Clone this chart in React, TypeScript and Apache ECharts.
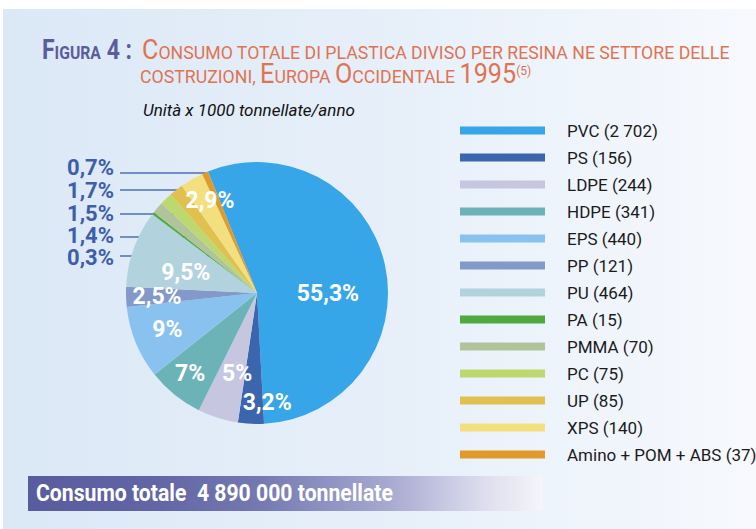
import React, { useEffect, useRef } from 'react';
import * as echarts from 'echarts';

// ---------- data ----------
const resins = ['PVC', 'PS', 'LDPE', 'HDPE', 'EPS', 'PP', 'PU', 'PA', 'PMMA', 'PC', 'UP', 'XPS', 'Amino + POM + ABS'];
const tonnes = [2702, 156, 244, 341, 440, 121, 464, 15, 70, 75, 85, 140, 37];
const shareLabels = ['55,3%', '3,2%', '5%', '7%', '9%', '2,5%', '9,5%', '0,3%', '1,4%', '1,5%', '1,7%', '2,9%', '0,7%'];
const totalText = 'Consumo totale  4 890 000 tonnellate';
const subtitleText = 'Unità x 1000 tonnellate/anno';

// ---------- styles / layout ----------
const colors = ['#36a6e8', '#3b65ad', '#c6c6e1', '#6cb3b8', '#8ac2ef', '#8299ca', '#b2d3dd', '#4fa93e', '#b1c39b', '#bed870', '#e0c04f', '#f3df7e', '#df9a29'];
const CX = 257;
const CY = 293;
const R = 131;
const START = -22; // degrees clockwise from 12 o'clock
// inside labels: [angle shift (deg), radius (px)]
const insidePlace: Record<number, [number, number]> = {
  0: [13, 71], 1: [-8, 110], 2: [-3.5, 83], 3: [0.7, 105], 4: [0, 97], 5: [-0.6, 100], 6: [-4, 74], 11: [3, 104],
};
// outside labels: [label centre y, leader line y]
const outsidePlace: Record<number, [number, number]> = {
  12: [167, 173], 10: [190, 190], 9: [213, 214], 8: [235, 237], 7: [257, 256],
};
const OUT_LABEL_RIGHT = 114;
const LINE_START = 120;

const FAMILY = 'Roboto, "Noto Sans", sans-serif';

const fmtThousands = (n: number) => String(n).replace(/\B(?=(\d{3})+(?!\d))/g, ' ');

type Piece = { t: string; size: number; weight?: string; style?: string; dy?: number };

function measure(ctx: CanvasRenderingContext2D, p: Piece) {
  ctx.font = `${p.style || 'normal'} ${p.weight || 'normal'} ${p.size}px ${FAMILY}`;
  return ctx.measureText(p.t).width;
}

function buildLine(
  ctx: CanvasRenderingContext2D,
  pieces: Piece[],
  x0: number,
  baseline: number,
  color: string,
  opts: { target?: number; scale?: number; z?: number }
) {
  const widths = pieces.map((p) => measure(ctx, p));
  const W = widths.reduce((a, b) => a + b, 0);
  const s = opts.scale != null ? opts.scale : (opts.target as number) / W;
  let x = x0;
  const els: any[] = [];
  pieces.forEach((p, i) => {
    els.push({
      type: 'text',
      x,
      y: baseline - 0.35 * p.size + (p.dy || 0),
      scaleX: s,
      z: opts.z ?? 5,
      silent: true,
      style: {
        text: p.t,
        fill: color,
        fontSize: p.size,
        fontFamily: FAMILY,
        fontWeight: p.weight || 'normal',
        fontStyle: p.style || 'normal',
        align: 'left',
        verticalAlign: 'middle',
      },
    });
    x += widths[i] * s;
  });
  return { els, scale: s };
}

export default function App() {
  const ref = useRef<HTMLDivElement>(null);

  useEffect(() => {
    if (!ref.current) return;
    const chart = echarts.init(ref.current, undefined, { renderer: 'svg' });
    const ctx = document.createElement('canvas').getContext('2d') as CanvasRenderingContext2D;

    const total = tonnes.reduce((a, b) => a + b, 0);
    const cum: number[] = [];
    let acc = 0;
    tonnes.forEach((v) => {
      cum.push(acc);
      acc += v;
    });
    const midDeg = (i: number) => START + (360 * (cum[i] + tonnes[i] / 2)) / total;
    const polar = (deg: number, r: number): [number, number] => [
      CX + r * Math.sin((deg * Math.PI) / 180),
      CY - r * Math.cos((deg * Math.PI) / 180),
    ];

    // title & texts
    const purple = '#5a5c9e';
    const orange = '#df7352';
    const fig = buildLine(ctx, [
      { t: 'F', size: 27, weight: 'bold' },
      { t: 'IGURA', size: 18.5, weight: 'bold' },
      { t: ' 4 :', size: 27, weight: 'bold' },
    ], 42, 59, purple, { target: 90 });
    const l1 = buildLine(ctx, [
      { t: 'C', size: 27 },
      { t: 'ONSUMO TOTALE DI PLASTICA DIVISO PER RESINA NE SETTORE DELLE', size: 19 },
    ], 142, 59, orange, { target: 588 });
    const l2 = buildLine(ctx, [
      { t: 'COSTRUZIONI, ', size: 19 },
      { t: 'E', size: 27 },
      { t: 'UROPA ', size: 19 },
      { t: 'O', size: 27 },
      { t: 'CCIDENTALE ', size: 19 },
      { t: '1995', size: 27 },
      { t: '(5)', size: 13, dy: -8 },
    ], 140, 83, orange, { scale: l1.scale });
    const sub = buildLine(ctx, [{ t: subtitleText, size: 16, style: 'italic' }], 143, 116, '#111111', { target: 212 });
    const tot = buildLine(ctx, [{ t: totalText, size: 24, weight: 'bold' }], 36, 501, '#ffffff', { target: 357, z: 6 });

    const option: any = {
      animation: false,
      backgroundColor: '#ffffff',
      textStyle: { fontFamily: FAMILY },
      graphic: [
        {
          type: 'rect',
          z: 0,
          silent: true,
          shape: { x: 3, y: 9, width: 753, height: 520 },
          style: {
            fill: new echarts.graphic.LinearGradient(0, 0, 1, 0, [
              { offset: 0, color: '#dbe8f6' },
              { offset: 0.6, color: '#e9f1fa' },
              { offset: 1, color: '#f7f9fd' },
            ]),
          },
        },
        {
          type: 'rect',
          z: 4,
          silent: true,
          shape: { x: 28, y: 476, width: 515, height: 35 },
          style: {
            fill: new echarts.graphic.LinearGradient(0, 0, 1, 0, [
              { offset: 0, color: '#585b9d' },
              { offset: 0.25, color: '#6266a5' },
              { offset: 0.45, color: '#7479b2' },
              { offset: 0.7, color: '#a7a9d0' },
              { offset: 0.88, color: '#dcdcee' },
              { offset: 1, color: '#f5f5fa' },
            ]),
          },
        },
        ...fig.els,
        ...l1.els,
        ...l2.els,
        ...sub.els,
        ...tot.els,
      ],
      legend: {
        orient: 'vertical',
        left: 460,
        top: 121,
        padding: 0,
        icon: 'rect',
        itemWidth: 85,
        itemHeight: 8,
        itemGap: 8,
        selectedMode: false,
        data: resins,
        formatter: (name: string) => `${name} (${fmtThousands(tonnes[resins.indexOf(name)])})`,
        textStyle: {
          fontFamily: FAMILY,
          fontSize: 17,
          lineHeight: 19,
          color: '#1b1b1b',
          padding: [0, 0, 0, 17],
        },
      },
      series: [
        {
          type: 'pie',
          center: [CX, CY],
          radius: [0, R],
          startAngle: 90 - START,
          clockwise: true,
          avoidLabelOverlap: false,
          itemStyle: { borderWidth: 0 },
          emphasis: { disabled: true },
          data: resins.map((name, i) => {
            const inside = insidePlace[i] != null;
            return {
              name,
              value: tonnes[i],
              itemStyle: { color: colors[i] },
              label: {
                show: true,
                position: inside ? 'inside' : 'outside',
                formatter: shareLabels[i],
                color: inside ? '#ffffff' : '#3d5ea9',
                fontFamily: FAMILY,
                fontWeight: 'bold',
                fontSize: inside ? 23 : 22,
                lineHeight: inside ? 24 : 22,
              },
              labelLine: {
                show: !inside,
                lineStyle: { color: '#4d6fb5', width: 1.5 },
              },
            };
          }),
          labelLayout: (p: any) => {
            const i = p.dataIndex;
            if (insidePlace[i]) {
              const [da, r] = insidePlace[i];
              const [x, y] = polar(midDeg(i) + da, r);
              return { x, y, align: 'center', verticalAlign: 'middle' };
            }
            const [ly, lineY] = outsidePlace[i];
            const d = (midDeg(i) * Math.PI) / 180;
            let r = (CY - lineY) / Math.cos(d);
            r = Math.min(Math.max(r, 20), R - 2);
            const ex = CX + r * Math.sin(d);
            return {
              x: OUT_LABEL_RIGHT,
              y: ly,
              align: 'right',
              verticalAlign: 'middle',
              labelLinePoints: [
                [LINE_START, lineY],
                [ex, lineY],
              ],
            };
          },
        },
      ],
    };

    chart.setOption(option);
    return () => chart.dispose();
  }, []);

  return (
    <div
      ref={ref}
      style={{ position: 'absolute', left: 0, top: 0, width: 756, height: 529 }}
    />
  );
}
